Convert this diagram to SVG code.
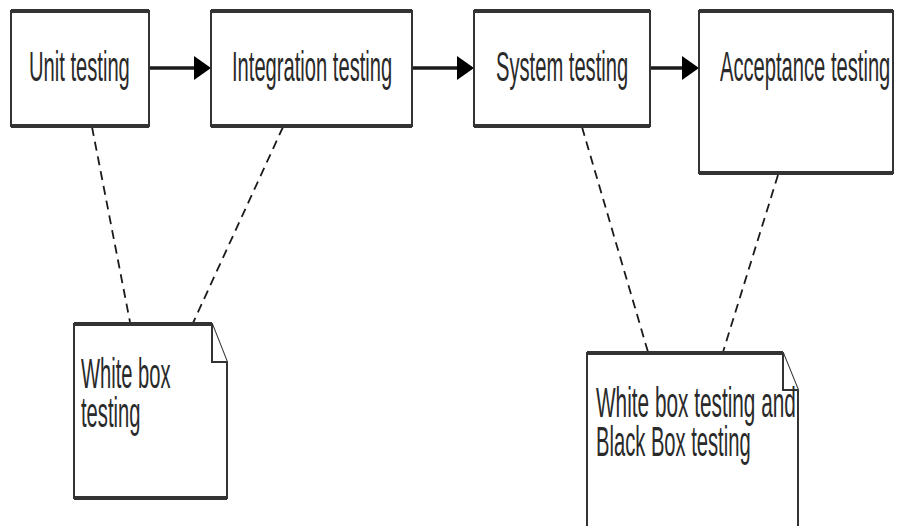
<svg xmlns="http://www.w3.org/2000/svg" width="901" height="526" viewBox="0 0 901 526">
  <style>
    .box { fill: #ffffff; stroke: #333333; stroke-width: 2; }
    .edge { fill: none; stroke: #333333; stroke-width: 4; }
    .lbl { font-family: "Liberation Sans", Arial, sans-serif; font-size: 42px; fill: #2a2a2a; }
    .flow { stroke: #1a1a1a; stroke-width: 3.5; fill: none; }
    .head { fill: #000000; }
    .link { stroke: #1a1a1a; stroke-width: 1.8; stroke-dasharray: 9 6; fill: none; }
  </style>
  <rect width="901" height="526" fill="#ffffff"/>

  <!-- connectors -->
  <g id="connectors">
    <line class="flow" x1="149" y1="68" x2="196" y2="68"/>
    <polygon class="head" points="194,56 211,68 194,80"/>
    <line class="flow" x1="412" y1="68" x2="459" y2="68"/>
    <polygon class="head" points="457,56 474,68 457,80"/>
    <line class="flow" x1="650" y1="68" x2="684" y2="68"/>
    <polygon class="head" points="682,56 699,68 682,80"/>

    <line class="link" x1="92" y1="127" x2="130" y2="322"/>
    <line class="link" x1="283" y1="127" x2="193" y2="323"/>
    <line class="link" x1="582" y1="127" x2="648" y2="352"/>
    <line class="link" x1="778" y1="175" x2="723" y2="352"/>
  </g>

  <!-- process stages (labels use a condensed face: horizontal scale 0.48) -->
  <g id="unit">
    <rect class="box" x="11" y="11" width="138" height="115"/>
    <path class="edge" d="M11,11 H149 M11,126 H149"/>
    <text class="lbl" transform="translate(29,81) scale(0.48,1)">Unit testing</text>
  </g>
  <g id="integration">
    <rect class="box" x="211" y="11" width="201" height="115"/>
    <path class="edge" d="M211,11 H412 M211,126 H412"/>
    <text class="lbl" transform="translate(232,81) scale(0.48,1)">Integration testing</text>
  </g>
  <g id="system">
    <rect class="box" x="474" y="11" width="176" height="115"/>
    <path class="edge" d="M474,11 H650 M474,126 H650"/>
    <text class="lbl" transform="translate(496,81) scale(0.48,1)">System testing</text>
  </g>
  <g id="acceptance">
    <rect class="box" x="699" y="11" width="194" height="162"/>
    <path class="edge" d="M699,11 H893 M699,173 H893"/>
    <text class="lbl" transform="translate(720,81) scale(0.48,1)">Acceptance testing</text>
  </g>

  <!-- notes -->
  <g id="note-whitebox">
    <path class="box" d="M74,324 H212 L227,362 V498 H74 Z"/>
    <path class="edge" d="M74,324 H212 M74,498 H227"/>
    <path class="box" d="M212,324 V362 H227"/>
    <text class="lbl" transform="translate(81,388) scale(0.48,1)">White box</text>
    <text class="lbl" transform="translate(81,427) scale(0.48,1)">testing</text>
  </g>
  <g id="note-both">
    <path class="box" d="M587,353 H783 L798,390 V530 H587 Z"/>
    <path class="edge" d="M587,353 H783"/>
    <path class="box" d="M783,353 V390 H798"/>
    <text class="lbl" transform="translate(596,417) scale(0.495,1)">White box testing and</text>
    <text class="lbl" transform="translate(596,456) scale(0.48,1)">Black Box testing</text>
  </g>
</svg>
